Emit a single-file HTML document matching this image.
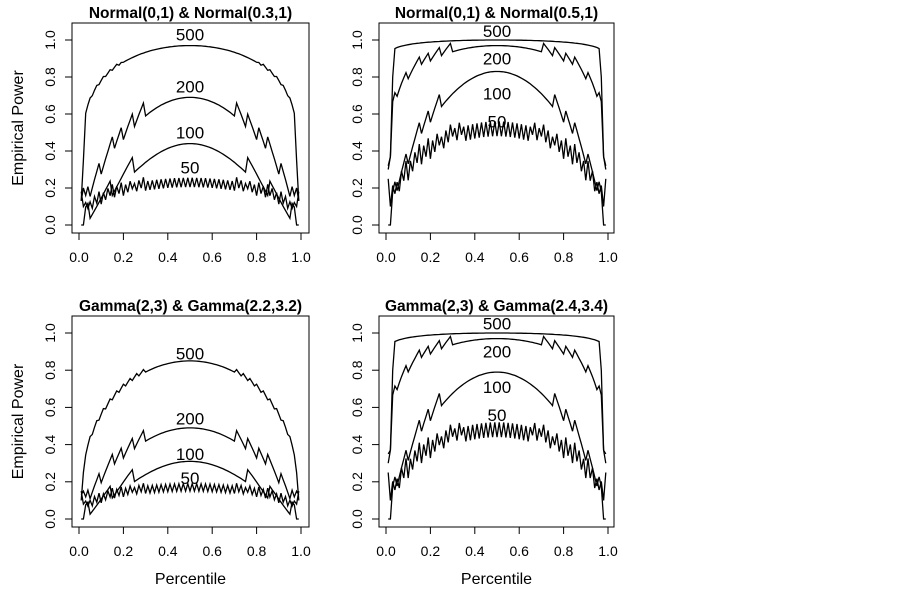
<!DOCTYPE html>
<html><head><meta charset="utf-8"><style>
body{margin:0;background:#fff}
svg{display:block;font-family:"Liberation Sans",Arial,sans-serif}
</style></head><body>
<svg id="s" width="902" height="591" xmlns="http://www.w3.org/2000/svg"></svg>
<script>
const S=document.getElementById('s');let h='';
const panels=[
 {L:72,R:309,T:23,B:233,x0:79,x1:301,y1:40,y0:225,title:'Normal(0,1) & Normal(0.3,1)',ylab:true,xlab:false,
  c:[{n:'500',pk:0.97,a:0.22,T:0.03,o:0,A:0.02,cut:0.2,st:[0.13,0.35],lab:1.03},
     {n:'200',pk:0.69,a:0.9,T:0.05,o:0,A:0.1,cut:0.3,st:[0.13,0.2],lab:0.75},
     {n:'100',pk:0.44,a:1.5,T:0.1,o:0.05,A:0.1,cut:0.25,st:[0,0],lab:0.5},
     {n:'50',pk:0.23,a:0.5,zz:0.025,T:0.05,o:0,A:0.03,cut:0.3,st:[0.18,0.1],lab:0.31}]},
 {L:379,R:614,T:23,B:233,x0:386,x1:608,y1:40,y0:225,title:'Normal(0,1) & Normal(0.5,1)',ylab:false,xlab:false,
  c:[{n:'500',pk:1.0,a:0.025,T:0.03,o:0,A:0,cut:0.1,st:[0.3,0.37],lab:1.05,e3:0.8},
     {n:'200',pk:0.97,a:0.2,T:0.05,o:0,A:0.06,cut:0.3,st:[0.32,0.37],lab:0.9},
     {n:'100',pk:0.83,a:0.9,T:0.05,o:0,A:0.1,cut:0.25,st:[0,0],lab:0.71},
     {n:'50',pk:0.52,a:0.6,zz:0.04,T:0.05,o:0,A:0.05,cut:0.35,st:[0.25,0.1],lab:0.56}]},
 {L:72,R:309,T:316,B:527,x0:79,x1:301,y1:333,y0:519,title:'Gamma(2,3) & Gamma(2.2,3.2)',ylab:true,xlab:true,
  c:[{n:'500',pk:0.85,a:0.42,T:0.03,o:0,A:0.03,cut:0.3,st:[0.1,0.25],lab:0.89},
     {n:'200',pk:0.49,a:0.9,T:0.05,o:0,A:0.08,cut:0.3,st:[0.13,0.15],lab:0.54},
     {n:'100',pk:0.31,a:1.5,T:0.1,o:0.05,A:0.08,cut:0.25,st:[0,0],lab:0.35},
     {n:'50',pk:0.17,a:0.45,zz:0.02,T:0.05,o:0,A:0.02,cut:0.3,st:[0.15,0.08],lab:0.22}]},
 {L:379,R:614,T:316,B:527,x0:386,x1:608,y1:333,y0:519,title:'Gamma(2,3) & Gamma(2.4,3.4)',ylab:false,xlab:true,
  c:[{n:'500',pk:1.0,a:0.025,T:0.03,o:0,A:0,cut:0.1,st:[0.3,0.37],lab:1.05,e3:0.8},
     {n:'200',pk:0.97,a:0.2,T:0.05,o:0,A:0.06,cut:0.3,st:[0.35,0.37],lab:0.9},
     {n:'100',pk:0.79,a:0.9,T:0.05,o:0,A:0.1,cut:0.25,st:[0,0],lab:0.71},
     {n:'50',pk:0.48,a:0.6,zz:0.04,T:0.05,o:0,A:0.05,cut:0.35,st:[0.25,0.1],lab:0.56}]}
];
for(const P of panels){
 const X=v=>P.x0+(P.x1-P.x0)*v, Y=v=>P.y0+(P.y1-P.y0)*v;
 h+=`<rect x="${P.L}" y="${P.T}" width="${P.R-P.L}" height="${P.B-P.T}" fill="none" stroke="#000" stroke-width="1"/>`;
 h+=`<text x="${(P.L+P.R)/2}" y="${P.T-5}" text-anchor="middle" font-weight="bold" font-size="15.5">${P.title}</text>`;
 for(let i=0;i<=5;i++){const v=i/5,x=X(v),y=Y(v);
  h+=`<line x1="${x}" y1="${P.B}" x2="${x}" y2="${P.B+7}" stroke="#000"/>`;
  h+=`<text x="${x}" y="${P.B+29}" text-anchor="middle" font-size="14">${v.toFixed(1)}</text>`;
  h+=`<line x1="${P.L}" y1="${y}" x2="${P.L-7}" y2="${y}" stroke="#000"/>`;
  h+=`<text transform="translate(${P.L-17},${y}) rotate(-90)" text-anchor="middle" font-size="14">${v.toFixed(1)}</text>`;}
 if(P.ylab)h+=`<text transform="translate(23,${(P.T+P.B)/2}) rotate(-90)" text-anchor="middle" font-size="16">Empirical Power</text>`;
 if(P.xlab)h+=`<text x="${(P.L+P.R)/2}" y="584" text-anchor="middle" font-size="16">Percentile</text>`;
 for(const c of P.c){
  let pts=[];
  for(let i=1;i<=99;i++){const p=i/100,d=Math.min(i,100-i)/100;
   let v=c.pk*Math.pow(4*p*(1-p),c.a);
   if(d<c.cut-1e-9){let ph=(((d-c.o)/c.T)%1+1)%1; v+=c.A*ph;}
   if(c.zz)v+=(i%2?c.zz:-c.zz);
   if(i==1||i==99)v=c.st[0];
   if(i==2||i==98)v=c.st[1];
   if(c.e3&&(i==3||i==97))v=c.e3;
   v=Math.max(0,Math.min(1,v));
   pts.push(X(p).toFixed(1)+','+Y(v).toFixed(1));}
  h+=`<polyline points="${pts.join(' ')}" fill="none" stroke="#000" stroke-width="1.3"/>`;
  h+=`<text x="${X(0.5)}" y="${Y(c.lab)+6}" text-anchor="middle" font-size="17">${c.n}</text>`;
 }
}
S.innerHTML=h;
</script>
</body></html>
